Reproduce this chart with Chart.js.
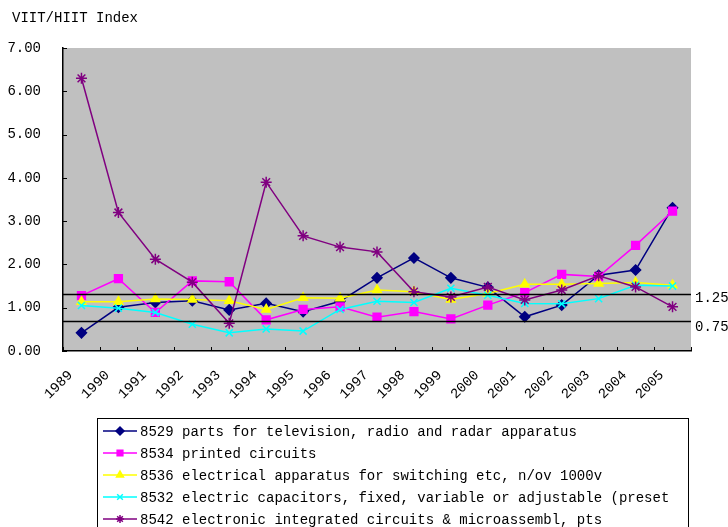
<!DOCTYPE html>
<html>
<head>
<meta charset="utf-8">
<script src="https://cdn.jsdelivr.net/npm/chart.js@4"></script>
<style>
html, body { margin: 0; padding: 0; background: #fff; }
#wrap { position: relative; width: 728px; height: 527px; }
</style>
</head>
<body>
<div id="wrap"><canvas id="chart" width="728" height="527"></canvas></div>
<script>
var years = ['1989', '1990', '1991', '1992', '1993', '1994', '1995', '1996', '1997',
             '1998', '1999', '2000', '2001', '2002', '2003', '2004', '2005'];

var s8529 = [0.42, 1.01, 1.12, 1.16, 0.95, 1.10, 0.91, 1.15, 1.69, 2.15, 1.69, 1.47, 0.79, 1.06, 1.75, 1.87, 3.31];
var s8534 = [1.28, 1.67, 0.89, 1.62, 1.60, 0.72, 0.96, 1.02, 0.78, 0.91, 0.74, 1.06, 1.35, 1.77, 1.72, 2.44, 3.23];
var s8536 = [1.14, 1.14, 1.20, 1.19, 1.16, 0.96, 1.23, 1.22, 1.41, 1.37, 1.19, 1.33, 1.54, 1.54, 1.56, 1.58, 1.52];
var s8532 = [1.05, 0.99, 0.89, 0.62, 0.42, 0.51, 0.46, 0.96, 1.15, 1.12, 1.45, 1.29, 1.10, 1.09, 1.21, 1.52, 1.50];
var s8542 = [6.30, 3.20, 2.12, 1.59, 0.64, 3.90, 2.66, 2.40, 2.29, 1.37, 1.25, 1.48, 1.18, 1.41, 1.74, 1.48, 1.02];

var seriesNames = [
    '8529 parts for television, radio and radar apparatus',
    '8534 printed circuits',
    '8536 electrical apparatus for switching etc, n/ov 1000v',
    '8532 electric capacitors, fixed, variable or adjustable (preset',
    '8542 electronic integrated circuits & microassembl, pts'
];

// horizontal reference lines (where they sit in the picture) and their labels
var refValues = [1.31, 0.69];
var refLabels = ['1.25', '0.75'];

var yTicks = [0, 1, 2, 3, 4, 5, 6, 7];

var FONT = '"Liberation Mono", "DejaVu Sans Mono", monospace';

var styles = [
    { color: '#000080', point: 'rectRot', radius: 5 },
    { color: '#ff00ff', point: 'rect', radius: 5.5 },
    { color: '#ffff00', point: 'triangle', radius: 5 },
    { color: '#00ffff', point: 'crossRot', radius: 5 },
    { color: '#800080', point: 'star', radius: 5.5 }
];
var allSeries = [s8529, s8534, s8536, s8532, s8542];

var datasets = allSeries.map(function (data, i) {
    var st = styles[i];
    return {
        label: seriesNames[i],
        data: data,
        borderColor: st.color,
        backgroundColor: st.color,
        borderWidth: 1.5,
        pointStyle: st.point,
        pointRadius: st.radius,
        pointBorderWidth: 1.5,
        pointBorderColor: st.color,
        pointBackgroundColor: st.color,
        tension: 0,
        order: allSeries.length - i
    };
});

var excelLook = {
    id: 'excelLook',
    beforeDraw: function (chart) {
        var ctx = chart.ctx, a = chart.chartArea;
        ctx.save();
        ctx.fillStyle = '#c0c0c0';
        ctx.fillRect(a.left, a.top, a.right - a.left, a.bottom - a.top);
        ctx.fillStyle = '#000';
        ctx.font = '14px ' + FONT;
        ctx.textBaseline = 'middle';
        ctx.textAlign = 'left';
        ctx.fillText('VIIT/HIIT Index', 12, 18);
        ctx.restore();
    },
    afterDatasetsDraw: function (chart) {
        var ctx = chart.ctx, a = chart.chartArea, y = chart.scales.y;
        ctx.save();
        ctx.strokeStyle = '#000';
        ctx.lineWidth = 1.5;
        ctx.fillStyle = '#000';
        ctx.font = '14px ' + FONT;
        ctx.textBaseline = 'middle';
        ctx.textAlign = 'left';
        refValues.forEach(function (v, i) {
            var py = Math.round(y.getPixelForValue(v)) + 0.5;
            ctx.beginPath();
            ctx.moveTo(a.left, py);
            ctx.lineTo(a.right, py);
            ctx.stroke();
            ctx.fillText(refLabels[i], 695, py + 4 + i * 2);
        });
        ctx.restore();
    },
    afterDraw: function (chart) {
        var ctx = chart.ctx, a = chart.chartArea, x = chart.scales.x, y = chart.scales.y;
        ctx.save();
        ctx.strokeStyle = '#000';
        ctx.lineWidth = 1;
        // inside tick marks
        ctx.beginPath();
        yTicks.forEach(function (v) {
            var py = Math.round(y.getPixelForValue(v)) + 0.5;
            ctx.moveTo(a.left, py);
            ctx.lineTo(a.left + 4, py);
        });
        for (var i = 0; i <= years.length; i++) {
            var px = Math.round(x.getPixelForValue(i - 0.5)) + 0.5;
            ctx.moveTo(px, a.bottom);
            ctx.lineTo(px, a.bottom - 4);
        }
        ctx.stroke();

        // legend box
        ctx.strokeStyle = '#000';
        ctx.strokeRect(97.5, 418.5, 591, 200);
        ctx.font = '14px ' + FONT;
        ctx.textBaseline = 'middle';
        ctx.textAlign = 'left';
        seriesNames.forEach(function (name, i) {
            var st = styles[i];
            var ry = 431 + i * 22;
            ctx.strokeStyle = st.color;
            ctx.fillStyle = st.color;
            ctx.lineWidth = 1.5;
            ctx.beginPath();
            ctx.moveTo(103, ry);
            ctx.lineTo(137, ry);
            ctx.stroke();
            Chart.helpers.drawPoint(ctx, { pointStyle: st.point, radius: 4, borderWidth: 1.5 }, 120, ry);
            ctx.fillStyle = '#000';
            ctx.fillText(name, 140, ry + 1);
        });
        ctx.restore();
    }
};

new Chart(document.getElementById('chart'), {
    type: 'line',
    data: { labels: years, datasets: datasets },
    options: {
        responsive: false,
        animation: false,
        devicePixelRatio: 1,
        layout: { padding: { top: 48, right: 37, left: 0, bottom: 0 } },
        plugins: { legend: { display: false }, tooltip: { enabled: false } },
        scales: {
            x: {
                offset: true,
                grid: { display: false },
                border: { display: true, color: '#000', width: 1.5 },
                ticks: {
                    color: '#000',
                    font: { family: FONT, size: 14 },
                    minRotation: 45,
                    maxRotation: 45,
                    autoSkip: false,
                    labelOffset: -11,
                    padding: 8
                },
                afterFit: function (s) { s.height = 176; }
            },
            y: {
                min: 0,
                max: 7,
                grid: { display: false },
                border: { display: true, color: '#000', width: 1.5 },
                ticks: {
                    stepSize: 1,
                    color: '#000',
                    font: { family: FONT, size: 14 },
                    padding: 14,
                    callback: function (v) { return v.toFixed(2); }
                },
                afterFit: function (s) { s.width = 63; }
            }
        }
    },
    plugins: [excelLook]
});
</script>
</body>
</html>
